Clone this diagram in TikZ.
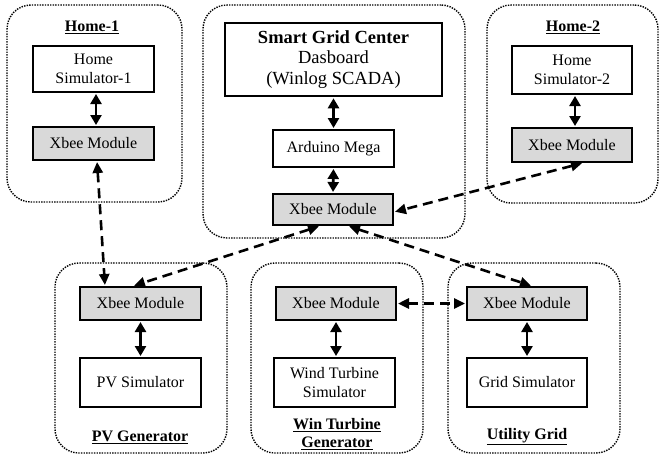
\documentclass[tikz,border=0pt]{standalone}
\usepackage{fontspec}
\setmainfont{Liberation Serif}
\usetikzlibrary{arrows.meta}
\definecolor{xgray}{HTML}{D9D9D9}
\tikzset{
  container/.style={draw, line width=1.4pt, dash pattern=on 1.4pt off 1.2pt, rounded corners=24pt, minimum width=#1, inner sep=0pt},
  blk/.style={draw, line width=2pt, fill=white, align=center, inner sep=0pt, minimum width=121pt, font=\fontsize{16}{19}\selectfont},
  xbee/.style={blk, fill=xgray, minimum height=33pt},
  ttl/.style={align=center, inner sep=0pt, font=\fontsize{16}{19}\selectfont\bfseries},
  biarrow/.style={line width=2.7pt, {Triangle[length=10pt,width=11pt]}-{Triangle[length=10pt,width=11pt]}, shorten <=1pt, shorten >=1pt},
  dasharrow/.style={line width=2.6pt, dash pattern=on 10pt off 6pt, {Triangle[length=11pt,width=10pt]}-{Triangle[length=11pt,width=10pt]}, shorten <=1pt, shorten >=1pt},
}
\begin{document}
\begin{tikzpicture}[x=1pt,y=-1pt]
\useasboundingbox (0,0) rectangle (660,455);
% containers
\node[container=175pt, minimum height=197pt] (c1) at (94.5,103.5) {};
\node[container=262pt, minimum height=233pt] (cc) at (334,121.5) {};
\node[container=171pt, minimum height=198pt] (c2) at (572.5,104) {};
\node[container=172pt, minimum height=190pt] (cpv) at (141,358) {};
\node[container=172pt, minimum height=190pt] (cw) at (337,358) {};
\node[container=172pt, minimum height=190pt] (cu) at (534,358) {};
% titles
\node[ttl] (t1) at (92,27) {\underline{Home-1}};
\node[ttl] (t2) at (573,27) {\underline{Home-2}};
\node[ttl] (tpv) at (140,437) {\underline{PV Generator}};
\node[ttl] (tw) at (337,434) {\underline{Win Turbine}\\[-1pt]\underline{Generator}};
\node[ttl] (tu) at (527,437) {\underline{Utility Grid}};
% Home-1
\node[blk, minimum height=46pt] (sim1) at (93.5,69) {Home\\Simulator-1};
\node[xbee] (x1) at (93.5,143.5) {Xbee Module};
% Center
\node[blk, line width=2.6pt, minimum width=217pt, minimum height=73pt, font=\fontsize{18.5}{20.5}\selectfont] (sgc) at (333.5,59.5) {\textbf{Smart Grid Center}\\Dasboard\\(Winlog SCADA)};
\node[blk, minimum height=37pt] (ard) at (333.5,148.5) {Arduino Mega};
\node[xbee, minimum width=120pt, minimum height=31pt] (xc) at (333,209.5) {Xbee Module};
% Home-2
\node[blk, minimum width=120pt, minimum height=48pt] (sim2) at (572,70) {Home\\Simulator-2};
\node[xbee, minimum width=120pt, minimum height=34pt] (x2) at (572,145) {Xbee Module};
% PV
\node[xbee] (xpv) at (140.5,303.5) {Xbee Module};
\node[blk, minimum height=49pt] (pvs) at (140.5,382.5) {PV Simulator};
% Wind
\node[xbee, minimum width=120pt] (xw) at (336,303.5) {Xbee Module};
\node[blk, minimum height=49pt] (ws) at (334.5,382.5) {Wind Turbine\\Simulator};
% Utility
\node[xbee, minimum width=120pt] (xu) at (527,303.5) {Xbee Module};
\node[blk, minimum width=120pt, minimum height=49pt] (gs) at (527,382.5) {Grid Simulator};
% solid arrows
\draw[biarrow] ([xshift=2.5pt]sim1.south) -- ([xshift=2.5pt]x1.north);
\draw[biarrow] (sgc.south) -- (ard.north);
\draw[biarrow] (ard.south) -- (xc.north);
\draw[biarrow] ([xshift=3pt]sim2.south) -- ([xshift=3pt]x2.north);
\draw[biarrow] (xpv.south) -- (pvs.north);
\draw[biarrow] (xw.south) -- ([xshift=1.5pt]ws.north);
\draw[biarrow] (xu.south) -- (gs.north);
% dashed arrows
\draw[dasharrow] ([xshift=3.5pt]x1.south) -- ([xshift=-35.5pt]xpv.north);
\draw[dasharrow] ([xshift=-13pt]xc.south) -- ([xshift=-7.5pt]xpv.north);
\draw[dasharrow] ([xshift=15pt]xc.south) -- ([xshift=5pt]xu.north);
\draw[dasharrow] ([xshift=11pt]x2.south) -- ([yshift=-2.5pt]xc.east);
\draw[dasharrow] (xw.east) -- (xu.west);
\end{tikzpicture}
\end{document}
